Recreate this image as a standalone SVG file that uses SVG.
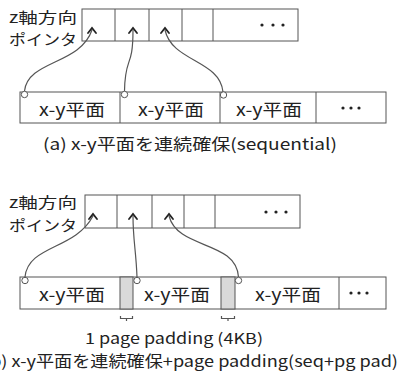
<svg xmlns="http://www.w3.org/2000/svg" width="400" height="380" viewBox="0 0 400 380">
<style>
.box{fill:#fff;stroke:#555;stroke-width:1}
.pad{fill:#d9d9d9;stroke:#555;stroke-width:1}
.ln{fill:none;stroke:#555;stroke-width:1.2}
.ah{fill:none;stroke:#222;stroke-width:1.8;stroke-linecap:round;stroke-linejoin:miter}
.cir{fill:#fff;stroke:#555;stroke-width:1}
.t{font-family:"Noto Sans CJK JP","Noto Sans",sans-serif;fill:#222;dominant-baseline:central}
.dot{fill:#222}
</style>
<rect width="400" height="380" fill="#fff"/>

<!-- (a) -->
<g id="label-a">
<text class="t" x="9" y="16" font-size="15" textLength="68" lengthAdjust="spacingAndGlyphs">z軸方向</text>
<text class="t" x="9" y="38.5" font-size="15" textLength="68" lengthAdjust="spacingAndGlyphs">ポインタ</text>
</g>
<g id="pointers-a">
<rect class="box" x="82" y="9" width="216" height="32"/>
<path class="box" d="M115,9V41M149,9V41M182,9V41M213,9V41"/>
<circle class="dot" cx="262" cy="25" r="1.6"/><circle class="dot" cx="273" cy="25" r="1.6"/><circle class="dot" cx="283" cy="25" r="1.6"/>
</g>
<g id="planes-a">
<rect class="box" x="20" y="92" width="366" height="31"/>
<path class="box" d="M120,92V123M220,92V123M316,92V123"/>
<text class="t" x="72" y="108" font-size="17" text-anchor="middle" textLength="66" lengthAdjust="spacingAndGlyphs">x-y平面</text>
<text class="t" x="171" y="108" font-size="17" text-anchor="middle" textLength="66" lengthAdjust="spacingAndGlyphs">x-y平面</text>
<text class="t" x="269" y="108" font-size="17" text-anchor="middle" textLength="66" lengthAdjust="spacingAndGlyphs">x-y平面</text>
<circle class="dot" cx="343" cy="108" r="1.6"/><circle class="dot" cx="351" cy="108" r="1.6"/><circle class="dot" cx="359" cy="108" r="1.6"/>
</g>
<g id="connectors-a">
<path class="ln" d="M24.5,91 C28,60 80,65 92,30"/>
<path class="ln" d="M124.5,91 C125,55 133,70 133,30"/>
<path class="ln" d="M223,92 C220,60 172,62 165,30"/>
<path class="ah" d="M88,33 L92,28 L96,33"/>
<path class="ah" d="M129,33 L133,28 L137,33"/>
<path class="ah" d="M161,33 L165,28 L169,33"/>
<circle class="cir" cx="24.5" cy="94.5" r="3.2"/>
<circle class="cir" cx="124.5" cy="94.5" r="3.2"/>
<circle class="cir" cx="223.5" cy="95" r="3.2"/>
</g>
<g id="caption-a">
<text class="t" x="190" y="143" font-size="16" text-anchor="middle" textLength="294" lengthAdjust="spacingAndGlyphs">(a) x-y平面を連続確保(sequential)</text>
</g>

<!-- (b) -->
<g id="label-b">
<text class="t" x="9" y="201.5" font-size="15" textLength="68" lengthAdjust="spacingAndGlyphs">z軸方向</text>
<text class="t" x="9" y="224" font-size="15" textLength="68" lengthAdjust="spacingAndGlyphs">ポインタ</text>
</g>
<g id="pointers-b">
<rect class="box" x="85" y="195" width="215" height="33"/>
<path class="box" d="M117,195V228M152,195V228M184,195V228M215,195V228"/>
<circle class="dot" cx="266" cy="212" r="1.6"/><circle class="dot" cx="276" cy="212" r="1.6"/><circle class="dot" cx="286" cy="212" r="1.6"/>
</g>
<g id="planes-b">
<rect class="box" x="20" y="277" width="366" height="32"/>
<rect class="pad" x="120" y="277" width="13" height="32"/>
<rect class="pad" x="221" y="277" width="14" height="32"/>
<path class="box" d="M339,277V309"/>
<text class="t" x="72" y="293" font-size="17" text-anchor="middle" textLength="66" lengthAdjust="spacingAndGlyphs">x-y平面</text>
<text class="t" x="177" y="293" font-size="17" text-anchor="middle" textLength="66" lengthAdjust="spacingAndGlyphs">x-y平面</text>
<text class="t" x="288" y="293" font-size="17" text-anchor="middle" textLength="66" lengthAdjust="spacingAndGlyphs">x-y平面</text>
<circle class="dot" cx="351" cy="293" r="1.6"/><circle class="dot" cx="359" cy="293" r="1.6"/><circle class="dot" cx="367" cy="293" r="1.6"/>
</g>
<g id="connectors-b">
<path class="ln" d="M25,277 C28,245 75,250 93,216"/>
<path class="ln" d="M137,277 C136,250 133,240 133,216"/>
<path class="ln" d="M238.5,277 C236,240 178,250 169,216"/>
<path class="ah" d="M89,219 L93,214 L97,219"/>
<path class="ah" d="M129,219 L133,214 L137,219"/>
<path class="ah" d="M165,219 L169,214 L173,219"/>
<circle class="cir" cx="25" cy="280.5" r="3.2"/>
<circle class="cir" cx="137" cy="280.5" r="3.2"/>
<circle class="cir" cx="238.5" cy="280.5" r="3.2"/>
</g>
<g id="padding-label">
<path class="ln" stroke-width="1" d="M120.5,316V318.5H132.5V316M126.5,318.5V321"/>
<path class="ln" stroke-width="1" d="M221.5,316V318.5H234.5V316M228,318.5V321"/>
<text class="t" x="174" y="337.5" font-size="15" text-anchor="middle" textLength="178" lengthAdjust="spacingAndGlyphs">1 page padding (4KB)</text>
</g>
<g id="caption-b">
<text class="t" x="398" y="359.5" font-size="15.5" text-anchor="end" textLength="414" lengthAdjust="spacingAndGlyphs">(b) x-y平面を連続確保+page padding(seq+pg pad)</text>
</g>
</svg>
